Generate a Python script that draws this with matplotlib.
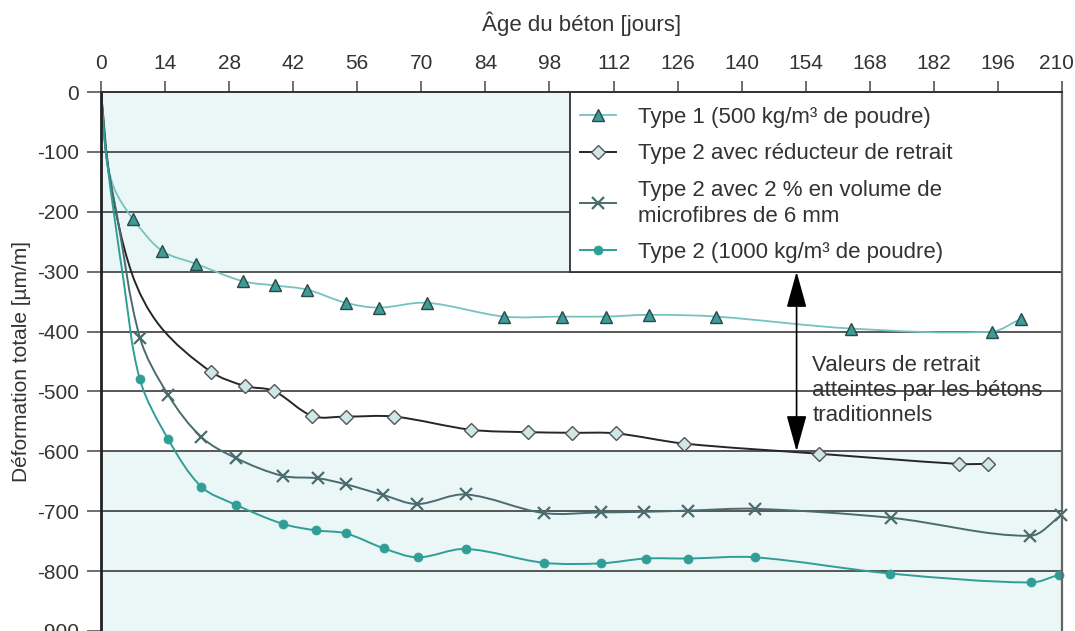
"""retrait des bétons : déformation totale en fonction de l'âge"""
import matplotlib
matplotlib.use('Agg')
import matplotlib.pyplot as plt
import numpy as np
from matplotlib.lines import Line2D
from matplotlib.patches import PathPatch, Rectangle
from matplotlib.path import Path
from matplotlib.transforms import ScaledTranslation

# marked points (days, µm/m)
t1_days = [7, 13.3, 20.8, 31, 38, 45, 53.5, 60.7, 71.2, 88.1, 100.7, 110.3, 119.8, 134.4, 164, 194.6, 201]
t1_vals = [-212, -265, -287, -316, -323, -330, -352, -360, -352, -375, -375, -375, -372, -375, -395, -400, -379]

red_days = [24, 31.5, 37.7, 46.2, 53.5, 64.1, 80.9, 93.4, 103, 112.5, 127.4, 156.8, 187.4, 193.8]
red_vals = [-467, -491, -499, -541, -542, -542, -564, -568, -569, -570, -587, -604, -621, -621]

fib_days = [8.5, 14.7, 21.9, 29.4, 39.7, 47.4, 53.5, 61.7, 69.1, 79.7, 96.7, 109.3, 118.7, 128.2, 143, 172.6, 203, 209.8]
fib_vals = [-410, -506, -576, -611, -641, -645, -655, -673, -688, -672, -703, -702, -701, -699, -696, -711, -741, -707]

t2_days = [8.5, 14.7, 21.9, 29.4, 39.7, 47, 53.5, 61.8, 69.2, 79.7, 96.7, 109.3, 119, 128.2, 143, 172.4, 203.2, 209.4]
t2_vals = [-480, -580, -659, -689, -721, -732, -737, -762, -777, -763, -786, -787, -779, -779, -777, -804, -819, -806]

# unmarked start of each curve
t1_start = ([0, 1.2, 3.0], [0, -108, -163])
red_start = ([0, 2.0, 6.7, 12.9], [0, -147, -302, -391])
fib_start = ([0, 1.2, 3.4], [0, -110, -202])
t2_start = ([0, 1.2, 4.9], [0, -108, -313])

labels = [
    'Type 1 (500 kg/m³ de poudre)',
    'Type 2 avec réducteur de retrait',
    'Type 2 avec 2 % en volume de\nmicrofibres de 6 mm',
    'Type 2 (1000 kg/m³ de poudre)',
]
note = 'Valeurs de retrait\natteintes par les bétons\ntraditionnels'

plt.rcParams['font.family'] = ['Liberation Sans', 'DejaVu Sans']
plt.rcParams['axes.unicode_minus'] = False
txt = '#333333'
shade = '#ebf6f6'
fs_tick = 15
fs_text = 16

# pixel per unit, used to smooth in screen-like proportions
sx, sy = 961 / 210, 540 / 900


def smooth_path(xs, ys):
    """chord length catmull-rom through the points, as cubic bezier segments"""
    p = np.column_stack([np.asarray(xs, float) * sx, np.asarray(ys, float) * sy])
    d = np.linalg.norm(np.diff(p, axis=0), axis=1)
    t = np.concatenate([[0], np.cumsum(d)])
    m = np.empty_like(p)
    m[1:-1] = (p[2:] - p[:-2]) / (t[2:] - t[:-2])[:, None]
    m[0] = (p[1] - p[0]) / d[0]
    m[-1] = (p[-1] - p[-2]) / d[-1]
    verts, codes = [p[0]], [Path.MOVETO]
    for i in range(len(p) - 1):
        verts += [p[i] + m[i] * d[i] / 3, p[i + 1] - m[i + 1] * d[i] / 3, p[i + 1]]
        codes += [Path.CURVE4] * 3
    verts = np.asarray(verts) / [sx, sy]
    return Path(verts, codes)


fig = plt.figure(figsize=(10.75, 6.31), dpi=100)
ax = fig.add_axes([101 / 1075, 0.0, 961 / 1075, 539 / 631])
ax.set_xlim(0, 210)
ax.set_ylim(-900, 0)

ax.axhspan(-300, 0, color=shade, zorder=0, lw=0)
ax.axhspan(-900, -600, color=shade, zorder=0, lw=0)
for y in range(-800, 0, 100):
    ax.axhline(y, color='#4a4a4a', lw=1.3, zorder=1)

series = [
    (t1_start, t1_days, t1_vals, dict(color='#74c3be', lw=1.3),
     dict(marker='^', ms=8, mfc='#3d9c96', mec='#2a4a4a', mew=1.0)),
    (red_start, red_days, red_vals, dict(color='#262626', lw=1.4),
     dict(marker='D', ms=7.5, mfc='#cfe8e7', mec='#555555', mew=1.0)),
    (fib_start, fib_days, fib_vals, dict(color='#4a6c6f', lw=1.4),
     dict(marker='x', ms=9, mfc='none', mec='#4a6c6f', mew=1.6)),
    (t2_start, t2_days, t2_vals, dict(color='#2f9e97', lw=1.4),
     dict(marker='o', ms=6.5, mfc='#2f9e97', mec='#2f9e97', mew=0.5)),
]
handles = []
for start, days, vals, line, mark in series:
    path = smooth_path(list(start[0]) + days, list(start[1]) + vals)
    ax.add_patch(PathPatch(path, fc='none', ec=line['color'], lw=line['lw'], zorder=3))
    ax.plot(days, vals, ls='none', zorder=4, clip_on=False, **mark)
    handles.append(Line2D([], [], color=line['color'], lw=line['lw'], **mark))

# legend frame covering the upper right corner
ax.add_patch(Rectangle((102.5, -300), 107.5, 300, fc='white', ec='#333333', lw=1.3, zorder=5))
leg = ax.legend(handles, labels, loc='center left', bbox_to_anchor=(0.4984, 0.8275),
                frameon=False, fontsize=fs_text, handlelength=1.6, handletextpad=1.0,
                labelspacing=0.7, borderpad=0, borderaxespad=0)
leg.set_zorder(6)
for t in leg.get_texts():
    t.set_color(txt)
    t.set_linespacing(1.3)

ax.annotate('', xy=(152, -300), xytext=(152, -600), zorder=6,
            arrowprops=dict(arrowstyle='<|-|>,head_length=0.9,head_width=0.25',
                            mutation_scale=25, color='black', lw=1.2, shrinkA=0, shrinkB=0))
ax.text(155.4, -498, note, fontsize=fs_text, color=txt, va='center', ha='left',
        linespacing=1.25, zorder=6)

ax.xaxis.tick_top()
ax.xaxis.set_label_position('top')
ax.set_xticks(range(0, 211, 14))
ax.set_yticks(range(-900, 1, 100))
ax.tick_params(axis='x', direction='out', length=8, width=1.2, color='#555555',
               labelsize=fs_tick, labelcolor=txt, pad=6)
ax.tick_params(axis='y', direction='out', length=10, width=1.2, color='#555555',
               labelsize=fs_tick, labelcolor=txt, pad=6)
ax.set_xlabel('Âge du béton [jours]', fontsize=fs_text, color=txt, labelpad=16)
ax.set_ylabel('Déformation totale [µm/m]', fontsize=fs_tick, color=txt, labelpad=4)

# keep the last top label inside the picture
last = ax.get_xticklabels(which='major')[-1]
last.set_transform(last.get_transform() + ScaledTranslation(-4 / 72, 0, fig.dpi_scale_trans))

ax.spines['left'].set_color('#222222')
ax.spines['left'].set_linewidth(2.0)
ax.spines['top'].set_color('#333333')
ax.spines['top'].set_linewidth(1.4)
ax.spines['right'].set_color('#666666')
ax.spines['right'].set_linewidth(1.6)
ax.spines['bottom'].set_visible(False)
for s in ax.spines.values():
    s.set_zorder(7)

fig.savefig('out.png', dpi=100)
